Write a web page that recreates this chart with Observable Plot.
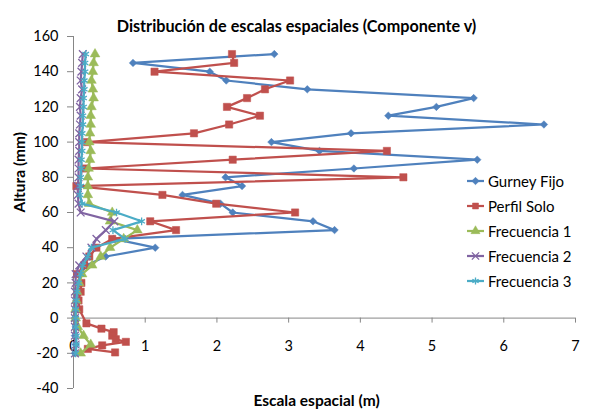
<!DOCTYPE html>
<html>
<head>
<meta charset="utf-8">
<script src="https://cdn.jsdelivr.net/npm/d3@7"></script>
<script src="https://cdn.jsdelivr.net/npm/@observablehq/plot@0.6"></script>
<style>
  html, body { margin: 0; padding: 0; background: #fff; }
  #wrap { position: relative; width: 593px; height: 412px; font-family: Lato, "Open Sans", sans-serif; }
  #legend { position: absolute; left: 466px; top: 168px; }
  .item { display: flex; align-items: center; height: 25.2px; font-size: 15px; color: #000; white-space: nowrap; }
  .item svg { margin-right: 3px; }
</style>
</head>
<body>
<div id="wrap"><div id="legend"></div></div>
<script>
// ---------- data ----------
const chartTitle = "Distribución de escalas espaciales (Componente v)";
const xLabel = "Escala espacial (m)";
const yLabel = "Altura (mm)";

const seriesNames = ["Gurney Fijo", "Perfil Solo", "Frecuencia 1", "Frecuencia 2", "Frecuencia 3"];
const seriesColors = ["#4F81BD", "#C0504D", "#9BBB59", "#8064A2", "#4BACC6"];
const seriesSymbols = ["diamond2", "square", "triangle", "times", "asterisk"];

const xTicks = [0, 1, 2, 3, 4, 5, 6, 7];
const yTicks = [-40, -20, 0, 20, 40, 60, 80, 100, 120, 140, 160];

const alturaGurney = [150,145,140,135,130,125,120,115,110,105,100,95,90,85,80,75,70,65,60,55,50,45,40,35,30,25,20,15,10,5,0,-5,-10,-15,-20];
const gurneyFijo   = [2.80,0.83,1.90,2.13,3.26,5.58,5.06,4.39,6.56,3.87,2.76,3.43,5.63,3.91,2.12,2.35,1.52,2.05,2.22,3.34,3.64,0.56,1.14,0.45,0.18,0.10,0.08,0.06,0.04,0.03,0.02,0.03,0.02,0.03,0.02];

const alturaPerfil = [150,145,140,135,130,125,120,115,110,105,100,95,90,85,80,75,70,65,60,55,50,45,40,35,30,25,20,15,10,5,-3,-6,-8,-10,-12,-13.5,-15.5,-17.5,-19.5];
const perfilSolo   = [2.21,2.24,1.13,3.02,2.67,2.42,2.14,2.60,2.17,1.68,0.19,4.37,2.22,0.17,4.60,0.04,1.24,1.99,3.09,1.07,1.43,0.54,0.32,0.22,0.15,0.05,0.11,0.10,0.07,0.08,0.18,0.39,0.56,0.54,0.59,0.73,0.40,0.20,0.58];

const alturaFrecuencia = [150,145,140,135,130,125,120,115,110,105,100,95,90,85,80,75,70,65,60,55,50,45,40,35,30,25,20,15,10,5,0,-5,-10,-15,-20];
const frecuencia1 = [0.30,0.28,0.27,0.25,0.27,0.28,0.25,0.24,0.24,0.23,0.22,0.24,0.23,0.21,0.20,0.20,0.20,0.22,0.54,0.51,0.89,0.70,0.51,0.38,0.26,0.12,0.08,0.05,0.04,0.03,0.03,0.06,0.14,0.24,0.10];
const frecuencia2 = [0.13,0.12,0.11,0.10,0.12,0.10,0.09,0.10,0.09,0.08,0.08,0.08,0.07,0.07,0.07,0.06,0.06,0.07,0.10,0.57,0.45,0.32,0.25,0.18,0.08,0.03,0.03,0.02,0.02,0.02,0.02,0.02,0.02,0.03,0.02];
const frecuencia3 = [0.17,0.16,0.16,0.15,0.15,0.14,0.14,0.13,0.13,0.12,0.12,0.12,0.11,0.11,0.10,0.10,0.09,0.12,0.60,0.95,0.55,0.72,0.25,0.20,0.13,0.10,0.07,0.05,0.04,0.03,0.03,0.03,0.04,0.04,0.03];

const seriesAltura = [alturaGurney, alturaPerfil, alturaFrecuencia, alturaFrecuencia, alturaFrecuencia];
const seriesValues = [gurneyFijo, perfilSolo, frecuencia1, frecuencia2, frecuencia3];

// ---------- build ----------
const series = seriesNames.map((name, k) => ({
  name, color: seriesColors[k], symbol: seriesSymbols[k],
  rows: seriesAltura[k].map((h, i) => ({serie: name, altura: h, escala: seriesValues[k][i]}))
}));

const axisGray = "#868686";
const font = "Lato, 'Open Sans', sans-serif";

const marks = [
  Plot.ruleX([0], {stroke: axisGray, strokeWidth: 1}),
  Plot.ruleY([0], {stroke: axisGray, strokeWidth: 1}),
  Plot.ruleY(yTicks, {y: d => d, x1: 0, x2: 0, insetLeft: -6, stroke: axisGray}),
  Plot.text(yTicks, {y: d => d, x: 0, dx: -15, textAnchor: "end", text: d => String(d), fontSize: 14.5, fill: "#000"}),
  Plot.ruleX(xTicks, {x: d => d, y1: 0, y2: 0, insetBottom: -5, stroke: axisGray}),
  Plot.text(xTicks, {x: d => d, y: 0, dy: 28, text: d => String(d), fontSize: 14.5, fill: "#000"})
];

for (const s of series) {
  marks.push(Plot.line(s.rows, {x: "escala", y: "altura", stroke: s.color, strokeWidth: 2.25, strokeLinejoin: "round", curve: "linear"}));
  const filled = ["diamond2", "square", "triangle"].includes(s.symbol);
  const r = s.symbol === "square" ? 4.1 : s.symbol === "diamond2" ? 3.4 : 3.6;
  marks.push(Plot.dot(s.rows, {
    x: "escala", y: "altura", symbol: () => s.symbol, r,
    fill: filled ? s.color : "none", stroke: s.color, strokeWidth: filled ? 0.5 : 1.3
  }));
}

marks.push(Plot.text([chartTitle], {frameAnchor: "top", dy: -16, dx: -28, text: d => d, fontWeight: "bold", fontSize: 16.2, fill: "#000"}));
marks.push(Plot.text([xLabel], {frameAnchor: "bottom", dy: 17, dx: -8, text: d => d, fontWeight: "bold", fontSize: 15.5, fill: "#000"}));
marks.push(Plot.text([yLabel], {frameAnchor: "left", dx: -53, dy: 0, rotate: -90, text: d => d, fontWeight: "bold", fontSize: 15.5, fill: "#000"}));

const chart = Plot.plot({
  width: 593,
  height: 412,
  marginLeft: 73,
  marginRight: 18,
  marginTop: 36,
  marginBottom: 24,
  x: {domain: [0, 7], axis: null},
  y: {domain: [-40, 160], axis: null},
  symbol: {domain: seriesSymbols, range: seriesSymbols},
  style: {fontFamily: font, background: "#fff", overflow: "visible"},
  marks
});

const wrap = document.getElementById("wrap");
wrap.insertBefore(chart, wrap.firstChild);

// legend
const legend = document.getElementById("legend");
const symMap = {diamond2: d3.symbolDiamond2, square: d3.symbolSquare, triangle: d3.symbolTriangle, times: d3.symbolTimes, asterisk: d3.symbolAsterisk};
series.forEach(s => {
  const item = document.createElement("div");
  item.className = "item";
  const svg = d3.create("svg").attr("width", 19).attr("height", 12);
  svg.append("line").attr("x1", 1).attr("x2", 18).attr("y1", 6).attr("y2", 6)
    .attr("stroke", s.color).attr("stroke-width", 2.25);
  const filled = ["diamond2", "square", "triangle"].includes(s.symbol);
  svg.append("path").attr("transform", "translate(9.5,6)")
    .attr("d", d3.symbol(symMap[s.symbol], 36)())
    .attr("fill", filled ? s.color : "none").attr("stroke", s.color).attr("stroke-width", filled ? 0.5 : 1.3);
  item.appendChild(svg.node());
  const span = document.createElement("span");
  span.textContent = s.name;
  item.appendChild(span);
  legend.appendChild(item);
});
</script>
</body>
</html>
